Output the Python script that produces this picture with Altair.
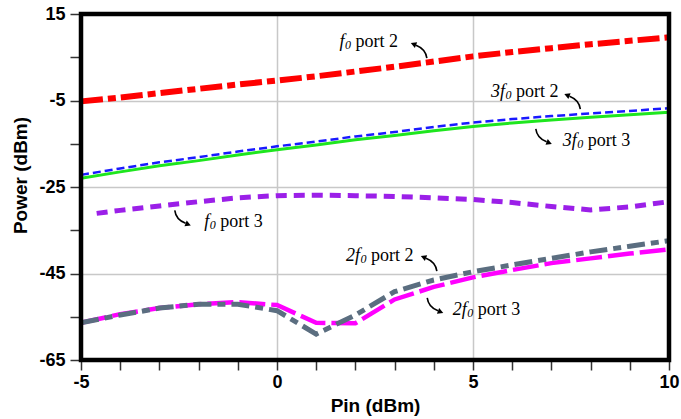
import altair as alt
import pandas as pd

# ---- data ----
pin = list(range(-5, 11))
f0_port2 = [-5.2, -4.3, -3.3, -2.3, -1.3, -0.4, 0.6, 1.7, 2.8, 4.0, 5.2, 6.2, 7.1, 8.0, 8.8, 9.6]
f3_port2 = [-22.2, -20.7, -19.3, -18.1, -16.8, -15.6, -14.5, -13.3, -12.3, -11.1, -10.1, -9.3, -8.6, -8.0, -7.4, -6.8]
f3_port3 = [-23.0, -21.5, -20.1, -18.9, -17.6, -16.4, -15.3, -14.1, -13.1, -12.0, -11.0, -10.2, -9.5, -8.9, -8.3, -7.7]
f2_port2 = [-56.4, -54.6, -53.0, -52.1, -52.1, -53.6, -59.0, -54.6, -49.2, -46.5, -44.6, -43.0, -41.5, -40.0, -38.7, -37.4]
f2_port3 = [-56.4, -54.4, -53.0, -52.1, -51.6, -52.3, -56.4, -56.5, -51.0, -48.1, -45.9, -44.2, -42.6, -41.5, -40.4, -39.4]
pin_f0p3 = [-4.6, -4, -3, -2, -1, 0, 1, 2, 3, 4, 5, 6, 7, 8, 9, 10]
f0_port3 = [-31.1, -30.4, -29.4, -28.4, -27.5, -27.0, -26.9, -27.0, -27.2, -27.5, -27.9, -28.6, -29.5, -30.3, -29.6, -28.4]

# annotations
label_prefix = ["f", "3f", "3f", "f", "2f", "2f"]
label_rest = ["port 2", "port 2", "port 3", "port 3", "port 2", "port 3"]
label_x = [2.0, 6.10, 7.93, -1.45, 2.40, 5.12]
label_y = [7.3, -4.26, -15.52, -34.3, -42.1, -54.6]
arrow_x = [3.635, 7.55, 6.79, -2.42, 3.89, 4.02]
arrow_y = [6.79, -5.0, -13.55, -32.4, -42.46, -52.63]
arrow_dir = [0, 0, 180, 180, 0, 180]

x_domain = [-5, 10]
y_domain = [-65, 15]
x_ticks = list(range(-5, 11))
y_ticks = list(range(-65, 16, 10))

xs = alt.Scale(domain=x_domain, nice=False, zero=False)
ys = alt.Scale(domain=y_domain, nice=False, zero=False)

x_axis = alt.Axis(
    values=x_ticks, tickCount=40,
    labelExpr="datum.value % 5 === 0 ? '' + datum.value : ''",
    labelOverlap=False, labelBound=False, labelFlush=False,
    title="Pin (dBm)",
    titleFontSize=19, titleFont="Liberation Sans", titleFontWeight="bold",
    titleY=45, titleBaseline="middle",
    labelFontSize=18, labelFont="Liberation Sans", labelFontWeight="bold",
    labelColor="black", labelPadding=3, labelBaseline="top",
    tickSize=10, tickWidth=1.5, tickColor="#333333",
    grid=True, gridColor="#c8c8c8", gridWidth=1.5,
    gridOpacity={"condition": {"test": "datum.value % 5 === 0", "value": 1}, "value": 0},
    domain=False,
)
y_axis = alt.Axis(
    values=y_ticks, tickCount=40,
    labelExpr="(datum.value + 65) % 20 === 0 ? '' + datum.value : ''",
    labelOverlap=False, labelBound=False, labelFlush=False,
    title="Power (dBm)",
    titleFontSize=19, titleFont="Liberation Sans", titleFontWeight="bold",
    titleX=-61, titleY=161, titleBaseline="middle", titleAngle=270,
    labelFontSize=18, labelFont="Liberation Sans", labelFontWeight="bold",
    labelColor="black", labelPadding=5,
    tickSize=11, tickWidth=1.5, tickColor="#333333",
    grid=True, gridColor="#c8c8c8", gridWidth=1.5,
    gridOpacity={"condition": {"test": "(datum.value + 65) % 20 === 0", "value": 1}, "value": 0},
    domain=False,
)


def series(xv, yv, **mark):
    df = pd.DataFrame({"pin": xv, "p": yv})
    return alt.Chart(df).mark_line(**mark).encode(
        x=alt.X("pin:Q", scale=xs, axis=x_axis),
        y=alt.Y("p:Q", scale=ys, axis=y_axis),
    )


layers = [
    series(pin, f3_port3, color="#1ee61e", strokeWidth=3),
    series(pin, f3_port2, color="#1a1aff", strokeWidth=2.5, strokeDash=[8, 4]),
    series(pin_f0p3, f0_port3, color="#9b1fe8", strokeWidth=5, strokeDash=[11, 7]),
    series(pin, f2_port3, color="#ff00ff", strokeWidth=4.5, strokeDash=[26, 6]),
    series(pin, f2_port2, color="#5b6e80", strokeWidth=5, strokeDash=[18, 6, 8, 6]),
    series(pin, f0_port2, color="#ff0000", strokeWidth=6, strokeDash=[22, 5, 8, 5]),
]

frame_df = pd.DataFrame({"x": [x_domain[0]], "x2": [x_domain[1]], "y": [y_domain[0]], "y2": [y_domain[1]]})
frame = alt.Chart(frame_df).mark_rect(filled=False, stroke="black", strokeWidth=4.5).encode(
    x=alt.X("x:Q", scale=xs), x2="x2:Q", y=alt.Y("y:Q", scale=ys), y2="y2:Q")

lab = pd.DataFrame({"x": label_x, "y": label_y, "pre": label_prefix, "rest": label_rest})
enc = dict(x=alt.X("x:Q", scale=xs), y=alt.Y("y:Q", scale=ys))
rest_t = alt.Chart(lab).mark_text(align="left", baseline="alphabetic", font="Liberation Serif",
                                  fontSize=18, color="black").encode(text="rest:N", **enc)
sub_t = alt.Chart(lab).mark_text(align="right", baseline="alphabetic", font="Liberation Serif",
                                 fontSize=12, fontStyle="italic", dx=-4.5, dy=2,
                                 color="black").encode(text=alt.value("0"), **enc)
pre_t = alt.Chart(lab).mark_text(align="right", baseline="alphabetic", font="Liberation Serif",
                                 fontSize=18, fontStyle="italic", dx=-11,
                                 color="black").encode(text="pre:N", **enc)

arr = pd.DataFrame({"x": arrow_x, "y": arrow_y, "dir": arrow_dir})
curve_path = "M0.85,1 Q0.72,-0.06 -0.4,-0.5"
head_path = "M-1,-0.74 L-0.27,-0.83 L-0.53,-0.17 Z"
arr_curve = alt.Chart(arr).mark_point(shape=curve_path, filled=False, stroke="black",
                                      strokeWidth=1.6, size=300, opacity=1).encode(
    angle=alt.Angle("dir:Q", scale=None), **enc)
arr_head = alt.Chart(arr).mark_point(shape=head_path, filled=True, color="black",
                                     strokeWidth=0.5, size=300, opacity=1).encode(
    angle=alt.Angle("dir:Q", scale=None), **enc)

chart = alt.layer(*layers, frame, rest_t, sub_t, pre_t, arr_curve, arr_head).properties(
    width=588, height=346,
    autosize=alt.AutoSizeParams(type="none"),
    padding={"left": 81, "top": 14, "right": 12, "bottom": 59},
    background="white",
).configure_view(strokeWidth=0)

chart.save("out.html", embed_options={"renderer": "svg", "actions": False})
